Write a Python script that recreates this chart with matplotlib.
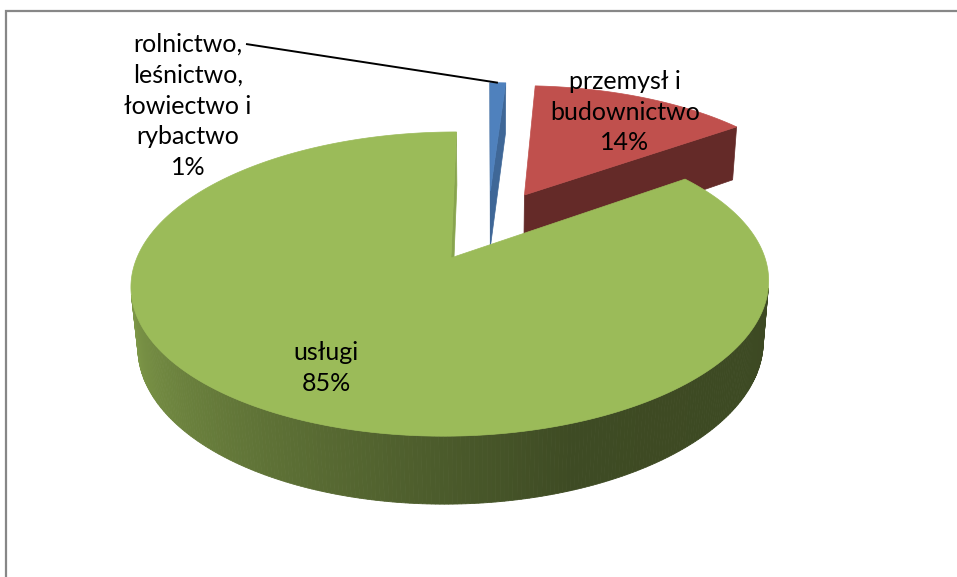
import numpy as np
import matplotlib
matplotlib.use("Agg")
import matplotlib.pyplot as plt
from matplotlib.patches import Polygon
from matplotlib.colors import to_rgb

# ---- data ----
categories = ["rolnictwo,\nleśnictwo,\nłowiectwo i\nrybactwo", "przemysł i\nbudownictwo", "usługi"]
values = [1, 14, 85]

# ---- style ----
colors_top = ["#4F81BD", "#C0504D", "#9BBB59"]
start_face_shade = [0.82, 0.80, 0.85]
end_face_shade = [0.80, 0.52, 0.88]
explode = [0.26, 0.26, 0.26]
label_pos = [(188, 106), (625, 112), (326, 368)]

plt.rcParams['font.family'] = ['Lato', 'DejaVu Sans']

W, H = 957, 577
fig = plt.figure(figsize=(W / 100, H / 100), dpi=100)
ax = fig.add_axes([0, 0, 1, 1])
ax.set_xlim(0, W)
ax.set_ylim(H, 0)
ax.axis('off')

# projection parameters
cx, cy = 488, 225
s = 302
phi = np.arcsin(0.452)
D = 5.39
h = 0.22
cam = np.array([0.0, -D * np.cos(phi), D * np.sin(phi)])


def proj(X, Y, Z):
    X = np.asarray(X, float)
    Y = np.asarray(Y, float)
    Z = np.asarray(Z, float)
    v = Y * np.sin(phi) + Z * np.cos(phi)
    w = Y * np.cos(phi) - Z * np.sin(phi)
    f = 1.0 / (1.0 + w / D)
    return cx + s * X * f, cy - s * v * f


def shade(c, k):
    r, g, b = to_rgb(c)
    return (r * k, g * k, b * k)


def wall_factor(t):
    return np.interp(t, [90, 160, 270], [0.39, 0.40, 0.87])


total = sum(values)
bounds = np.concatenate([[0], np.cumsum(values) / total * 360.0])

slices = []
for i, v in enumerate(values):
    a0, a1 = bounds[i], bounds[i + 1]
    mid = np.radians((a0 + a1) / 2)
    ox, oy = explode[i] * np.sin(mid), explode[i] * np.cos(mid)
    slices.append((i, a0, a1, ox, oy))

# draw far slices first
slices.sort(key=lambda t: -t[4])

for (i, a0, a1, ox, oy) in slices:
    col = colors_top[i]
    apex = np.array([ox, oy, 0.0])
    # radial faces
    for a, sign, k in [(a0, -1, start_face_shade[i]), (a1, 1, end_face_shade[i])]:
        ar = np.radians(a)
        n = sign * np.array([np.cos(ar), -np.sin(ar), 0.0])
        if np.dot(cam - apex, n) > 0:
            X = [ox, ox + np.sin(ar), ox + np.sin(ar), ox]
            Y = [oy, oy + np.cos(ar), oy + np.cos(ar), oy]
            Z = [0, 0, -h, -h]
            px, py = proj(X, Y, Z)
            fc = shade(col, k)
            ax.add_patch(Polygon(np.column_stack([px, py]), closed=True,
                                 facecolor=fc, edgecolor=fc, lw=0.5))
    # outer wall
    ts = np.linspace(a0, a1, max(int((a1 - a0) * 1.5), 2) + 1)
    for t0, t1 in zip(ts[:-1], ts[1:]):
        tm = np.radians((t0 + t1) / 2)
        pm = np.array([ox + np.sin(tm), oy + np.cos(tm), -h / 2])
        nrm = np.array([np.sin(tm), np.cos(tm), 0.0])
        if np.dot(cam - pm, nrm) <= 0:
            continue
        r0, r1 = np.radians(t0), np.radians(t1)
        X = [ox + np.sin(r0), ox + np.sin(r1), ox + np.sin(r1), ox + np.sin(r0)]
        Y = [oy + np.cos(r0), oy + np.cos(r1), oy + np.cos(r1), oy + np.cos(r0)]
        Z = [0, 0, -h, -h]
        px, py = proj(X, Y, Z)
        fc = shade(col, wall_factor((t0 + t1) / 2))
        ax.add_patch(Polygon(np.column_stack([px, py]), closed=True,
                             facecolor=fc, edgecolor=fc, lw=0.6))
    # top face
    tt = np.radians(np.linspace(a0, a1, max(int((a1 - a0) * 2), 4)))
    X = np.concatenate([[ox], ox + np.sin(tt)])
    Y = np.concatenate([[oy], oy + np.cos(tt)])
    Z = np.zeros_like(X)
    px, py = proj(X, Y, Z)
    ax.add_patch(Polygon(np.column_stack([px, py]), closed=True,
                         facecolor=col, edgecolor=col, lw=0.5))

# labels
for i, (name, v) in enumerate(zip(categories, values)):
    x, y = label_pos[i]
    ax.text(x, y, f"{name}\n{v}%", ha='center', va='center', fontsize=18,
            color='black', linespacing=1.42)

# leader line for the smallest slice
mid0 = np.radians((bounds[0] + bounds[1]) / 2)
ex, ey = proj(explode[0] * np.sin(mid0) + np.sin(mid0),
              explode[0] * np.cos(mid0) + np.cos(mid0), 0)
ax.plot([246, float(ex)], [44, float(ey)], color='black', lw=1.4,
        solid_capstyle='butt')

# chart border (top and left)
ax.plot([6, 6, W], [H, 10.5, 10.5], color='#878787', lw=1.6,
        solid_joinstyle='miter')

fig.savefig("out.png", dpi=100)
